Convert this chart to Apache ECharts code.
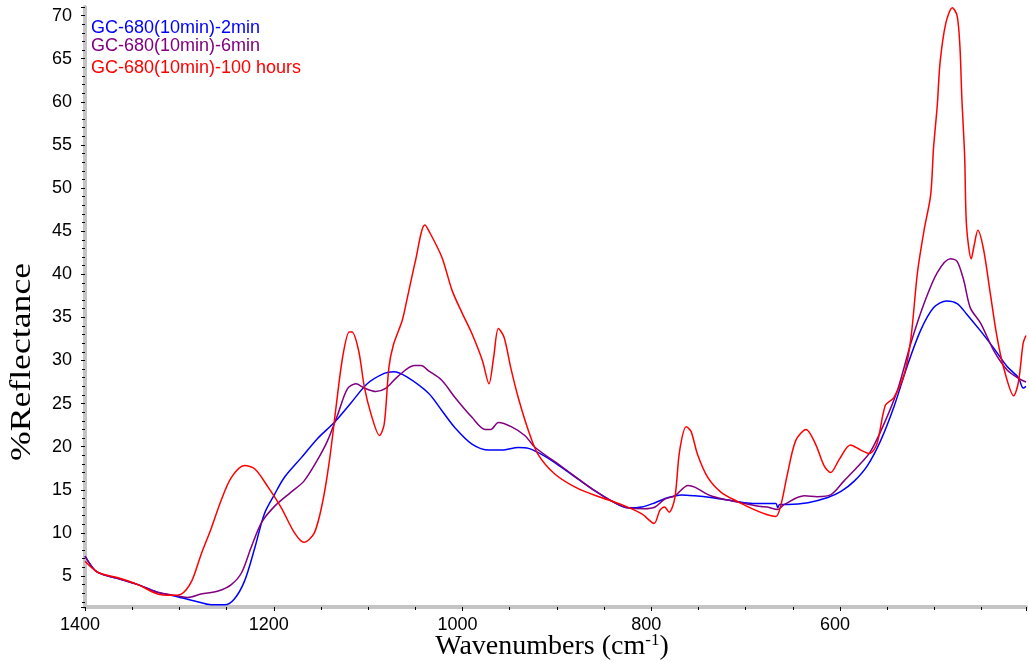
<!DOCTYPE html>
<html><head><meta charset="utf-8">
<script src="https://cdn.jsdelivr.net/npm/echarts@6/dist/echarts.min.js"></script>
<style>html,body{margin:0;padding:0;background:#fff}#c{width:1029px;height:662px}</style>
</head><body><div id="c"></div>
<script>
const seriesNames = ['GC-680(10min)-2min', 'GC-680(10min)-6min', 'GC-680(10min)-100 hours'];
const xTickLabels = [1400, 1200, 1000, 800, 600];
const yTickLabels = [5, 10, 15, 20, 25, 30, 35, 40, 45, 50, 55, 60, 65, 70];

const blueWave = [1400,1389,1379,1365,1344,1323,1302,1284,1266,1252,1242,1231,1220,1210,1199,1189,1171,1154,1136,1118,1101,1083,1073,1059,1036,1022,1008,990,972,958,941,930,913,895,877,860,842,825,810,796,782,768,754,737,719,701,684,677,668,666,664,655,634,613,599,585,571,557,543,529,515,501,487,476,466,451,437,423,411,406,403];
const blueVal = [7.3,5.6,5.1,4.7,4.0,3.1,2.6,2.1,1.65,1.65,2.3,4.4,8.3,12.2,14.5,16.4,18.7,20.9,22.8,25.1,27.3,28.5,28.7,28.1,26.2,24.2,22.2,20.3,19.6,19.6,19.9,19.8,18.9,17.6,16.2,14.9,13.7,12.9,13.0,13.5,14.1,14.4,14.3,14.1,13.8,13.5,13.4,13.4,13.4,12.9,13.3,13.3,13.5,14.1,14.8,16.0,17.8,20.7,24.6,29.3,33.4,36.1,36.9,36.6,35.4,33.4,31.4,29.3,28.0,26.8,27.0];

const purpleWave = [1400,1389,1379,1365,1344,1323,1302,1291,1277,1259,1245,1234,1224,1213,1199,1182,1168,1154,1143,1132,1122,1113,1104,1092,1081,1069,1051,1044,1036,1022,1008,990,976,970,962,948,934,923,895,860,825,807,796,786,775,761,754,737,719,701,684,677,666,659,638,624,610,596,582,568,554,539,525,511,497,483,476,469,462,451,437,423,409,403];
const purpleVal = [7.3,5.6,5.1,4.7,4.0,3.1,2.7,2.5,2.9,3.25,4.0,5.4,8.3,11.2,13.1,14.7,16.0,18.4,20.7,23.8,26.7,27.3,26.8,26.4,26.8,28.1,29.4,29.4,28.8,27.7,25.7,23.4,22.0,22.0,22.8,22.3,21.3,19.9,17.7,14.9,12.9,12.8,13.0,13.9,14.3,15.5,15.3,14.3,13.8,13.4,13.05,13.0,12.7,13.3,14.3,14.2,14.4,16.0,17.6,19.4,22.5,26.6,32.0,36.6,40.2,41.8,41.5,39.3,36.1,34.3,31.1,28.9,27.8,27.5];

const redWave = [1400,1386,1365,1344,1323,1309,1298,1287,1277,1266,1256,1245,1231,1220,1206,1192,1178,1168,1157,1148,1141,1134,1127,1120,1117,1110,1104,1097,1088,1083,1078,1073,1064,1059,1050,1040,1036,1022,1011,1000,990,979,972,967,962,956,949,941,930,920,902,877,853,832,810,797,791,786,781,775,770,763,758,751,740,726,708,691,677,668,663,656,647,636,626,617,610,601,589,578,569,561,552,543,532,525,518,511,504,501,497,494,488,481,476,473,471,468,466,461,458,454,448,441,434,427,416,411,406,403];
const redVal = [6.7,5.4,4.8,4.0,2.9,2.75,2.9,4.4,7.5,10.6,13.7,16.4,17.8,17.4,15.3,12.9,10.0,8.9,10.0,13.7,18.4,24.6,30.4,33.3,33.3,31.1,26.9,23.8,21.3,22.6,29.2,31.9,34.6,37.0,41.5,45.7,45.1,42.0,38.1,35.4,33.1,30.0,27.3,30.4,33.7,32.7,29.2,25.7,21.8,19.1,16.8,15.1,14.1,13.3,12.2,11.1,12.6,13.0,12.4,14.1,19.5,22.3,21.8,19.1,16.4,14.7,13.6,12.7,12.1,11.9,13.1,16.7,20.7,22.0,20.3,17.8,17.0,18.5,20.2,19.6,19.2,20.3,24.8,25.7,28.4,32.5,40.2,45.1,49.2,54.6,59.6,64.6,69.1,70.9,70.0,66.4,60.5,53.7,45.6,41.8,43.3,45.1,42.9,37.9,32.9,29.3,25.9,27.5,32.0,32.9];

const colors = ['#0000ff', '#800080', '#ff0000'];
const pair = (w, v) => w.map((x, i) => [x, v[i]]);
const seriesData = [pair(blueWave, blueVal), pair(purpleWave, purpleVal), pair(redWave, redVal)];

const chart = echarts.init(document.getElementById('c'), null, {renderer: 'canvas'});
const legendTops = [19, 37, 59];
const axisLineStyle = {color: '#c4c4c4', width: 4};
chart.setOption({
  animation: false,
  backgroundColor: '#fff',
  grid: {left: 85, right: 0, top: 7, bottom: 55},
  legend: seriesNames.map((n, i) => ({
    data: [{name: n, textStyle: {color: colors[i]}}],
    left: 86, top: legendTops[i], padding: 0,
    itemWidth: 0, itemHeight: 18, icon: 'rect',
    selectedMode: false,
    textStyle: {fontFamily: 'Liberation Sans', fontSize: 18, color: colors[i]}
  })),
  xAxis: {
    type: 'value', inverse: true, min: 403, max: 1400, minInterval: 200, maxInterval: 200,
    axisLine: {show: true, lineStyle: axisLineStyle},
    axisTick: {show: true, length: 4, lineStyle: {color: '#000', width: 1}},
    minorTick: {show: true, splitNumber: 4, length: 3, lineStyle: {color: '#000', width: 1}},
    splitLine: {show: false},
    axisLabel: {
      fontFamily: 'Liberation Sans', fontSize: 18, color: '#000', margin: 9,
      padding: [0, 10, 0, 0],
      formatter: v => (xTickLabels.indexOf(v) >= 0 ? String(v) : '')
    }
  },
  yAxis: {
    type: 'value', min: 1.4, max: 71, minInterval: 5, maxInterval: 5,
    axisLine: {show: true, lineStyle: axisLineStyle},
    axisTick: {show: true, length: 4, lineStyle: {color: '#000', width: 1}},
    minorTick: {show: true, splitNumber: 5, length: 3, lineStyle: {color: '#000', width: 1}},
    splitLine: {show: false},
    axisLabel: {
      fontFamily: 'Liberation Sans', fontSize: 18, color: '#000', margin: 13,
      formatter: v => (yTickLabels.indexOf(v) >= 0 ? String(v) : '')
    }
  },
  graphic: [
    {
      type: 'text', x: 552, y: 647,
      style: {
        text: '{a|Wavenumbers (cm}{s|-1}{a|)}',
        align: 'center', verticalAlign: 'middle',
        rich: {
          a: {fontFamily: 'Liberation Serif', fontSize: 28, fill: '#000', color: '#000'},
          s: {fontFamily: 'Liberation Serif', fontSize: 17, fill: '#000', color: '#000', padding: [0, 0, 12, 0]}
        }
      }
    },
    {
      type: 'text', x: 22.5, y: 362, rotation: Math.PI / 2, scaleX: 1.19, scaleY: 1,
      style: {
        text: '%Reflectance', align: 'center', verticalAlign: 'middle',
        font: '30px "Liberation Serif"', fill: '#000'
      }
    }
  ],
  series: seriesNames.map((n, i) => ({
    name: n, type: 'line', data: seriesData[i],
    showSymbol: false, smooth: 0.3,
    lineStyle: {color: colors[i], width: 1.5},
    itemStyle: {color: colors[i]},
    z: 2 + i
  }))
});
</script>
</body></html>
